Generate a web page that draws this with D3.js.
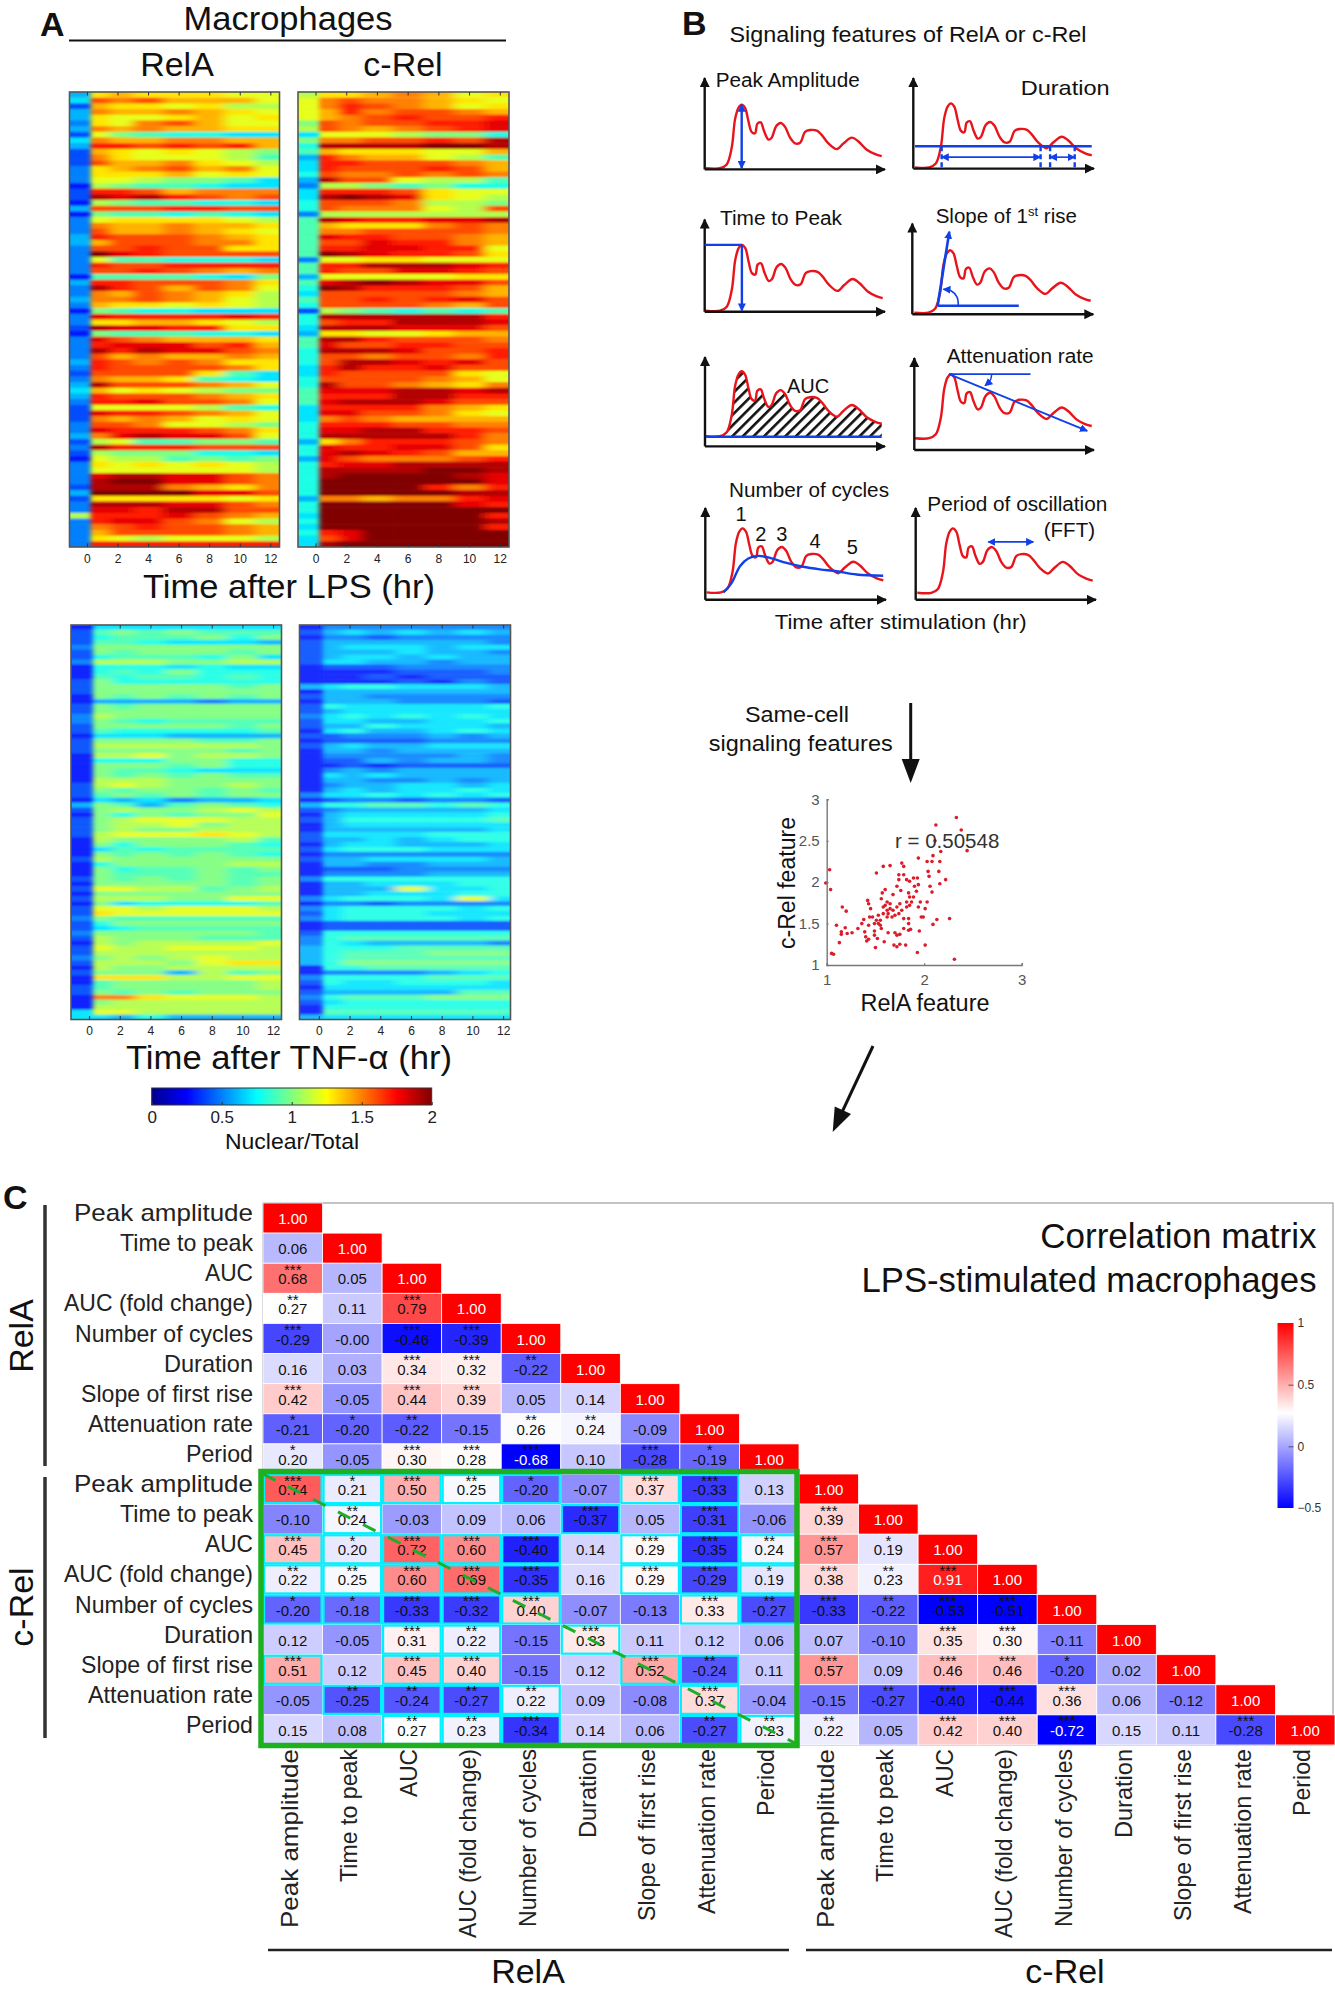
<!DOCTYPE html>
<html><head><meta charset="utf-8">
<script src="https://cdn.jsdelivr.net/npm/d3@7"></script>
<style>
html,body{margin:0;padding:0;background:#fff}
svg{display:block}
text{font-family:"Liberation Sans",Arial,sans-serif;fill:#111}
</style></head><body>
<svg id="fig" width="1335" height="1990" viewBox="0 0 1335 1990"></svg>
<script>
// ---------- DATA ----------
// Heatmap: each row = one cell; each character = Nuclear/Total x 10 in base 36, per time bin
const binEdges = [-3, 0.25, 1.5, 3, 5, 7, 9, 11, 15];
const lpsRelA = ["6dedddcc","7gfgeeec","4eddcdbb","6feefedc","6dccdecd","5dcfgecc","6fefeedd","4ca98877","7feeffee","6hhghghe",
"4edcdcba","4fdcccb9","4geefdcb","5defgefc","5dddecdc","5ccbaa97","3ba99877","4hhgefff","4jijhgfg","3ba99887",
"6ggghhgg","3a998987","5cddddcb","5feefeed","5geefedc","6hgggfed","6egggffd","5gghggdd","5kihgggg","5c998887",
"5hgghhhh","5gghgfef","3999987a","6hhgggfd","5jhgegfc","5fegfedb","6ffgfecb","5eddcdcb","3a988777","5ihhhhih",
"5ddeedcb","4jiihhdd","3a999887","5igfeeed","5hiiighe","5jhjiigf","5gefeefe","6hgfgfdd","5hggggfd","4ggggd97",
"5feed987","6jgggfec","7ecdcbaa","6hgggfed","5hhiggfc","4ccccb98","4ihhgfec","4fefecdc","5ggfccba","5ihhhgfd",
"6fijiigc","4bc99aa9","5jhhhggg","4baaa887","3cbb9a9a","5dcdcdcb","5ccccccb","5ijjiigf","5jkkiigf","4jjjfedf",
"6kkkkiig","4dddddcd","5jjjiigf","5iihjjgg","bhhhigfe","5hiigfcb","5fghggfe","5eggggfe","5dcbcccb","5hhhhhhh"];
const lpsCRel = ["bddefecd","cfgffedc","cfhgfecd","cehfggfe","cefghggh","agfgghhi","bgfefghi","7cccbaa8","affgghgj","8jjjjkkj",
"9edddcce","6hfeecb9","7hhgggfe","7hggghge","8gffgfgf","6jggcbb9","5bba9a88","7hhhgdcc","7jkjidcb","8gggfbba",
"8gfffcbg","5bbbbbbb","9jihhiij","9edddfgf","9ffggggf","9ihhggfe","9ggihhfe","9hhiihhc","9kjihhgd","5ccddccc",
"9hhjjjih","9hggiihg","6cccccdd","9ijkjiig","8kjhhhge","7gggggfe","9gghghig","8ggggfeg","4ba98989","8jjjjjjh",
"8ghhjjji","7jjjiiig","6ddccdee","9jjhgggf","9igghhgg","8jjjiggh","8ggfggfh","8gjjihig","7hjhhigg","7hggggdc",
"8ggggfec","8jggfedf","9iiijjij","9hhhjjhh","9ijjjigg","7hhhhfed","7iiggfdc","7fgfeeee","8hhhggff","8iijjhhg",
"8jjjjjhf","6dfhhhgf","8ihhiigd","8ijihgee","6igfffgh","8hiijjjj","8jjjjkkj","8jkkkkji","8kkkkkki","8kkkkhfh",
"8kkkkkjj","6ffeffhi","8kkkkkih","8kkkkkkk","7kkkkkkh","8kkkkkkj","7kkkkkkh","8hikkkkk","7gikkkkk","7jkkkkkk"];
const tnfRelA = ["37777777","49a9a999","48999a8a","49987776","5aaaaaaa","4a9aaa9a","489998a7","5bbbaabb","38887877","3898a888",
"39899898","4a888888","4aaaaa9a","4aaaaaaa","3a9a9a9a","36666566","4a9aaaaa","4aaaaaaa","5baaaaaa","5a989999",
"4aaaaa9a","49888889","37776666","4aaaa99a","4bbbbbba","4aaaaa9a","3bbcabba","3888aa88","3aaa9a88","3a998777",
"3a9a9a99","3bbbaaaa","4bcbaaba","4a9aa9a9","49a9a9aa","37675667","6a969a98","4abaabcb","3a8a9aac","4abcccbb",
"4abbcabb","4abaabbb","4bcccdcb","3baaaab9","3a8aaa98","37989999","3a9a9a98","4baaaaaa","38aaaabb","3a899a9a",
"3a999a99","4a9a9a9a","3aaaaa9a","4ccbb9ab","3aaaaaaa","4bbbaacc","3a788889","4ccbcccb","4dcccccc","5a999999",
"48aaaaaa","47899999","5aaaaaa9","4baaa999","3babbbbc","4cbbcccb","4bbbbbbb","5ababcbb","4bbbacdd","3baabbbb",
"4aaa6b9a","3dddbbcc","39aaaaab","49aaaaab","4a9a9aaa","3ffdcccb","3abbbbbb","3bbbbbbb","7ccbbbbb","77686666"];
const tnfCRel = ["35555555","46767676","35545555","46666665","46777677","46667665","46776766","47766566","34445555","33334445",
"33343444","33334354","67887776","36666666","46655555","36665554","48777778","46777777","57878787","47766778",
"46687776","37866787","44555656","34444555","46766777","36656666","35555565","34465665","33434444","35656666",
"37676666","36655656","35667767","36767787","57787878","34554554","68899898","45666667","36777778","46888889",
"36777777","36666667","47777888","46676788","36776667","47888777","35555555","46677776","36655666","34445555",
"35555666","58888888","36677788","3666c778","36677788","578887c7","35545555","57888878","47888777","57888878",
"34444444","34444444","48888888","58999999","58766665","68889999","68999aaa","68999999","68aaaaaa","38899999",
"35555678","58888999","48778887","37777777","46666699","58999aaa","47888888","38888888","39999999","67777777"];
const hourTicks = [0,2,4,6,8,10,12];
const jetStops = [0,0.25,0.75,1,1.25,1.75,2];
const jetColors = ["#00008f","#0000ff","#00ffff","#80ff80","#ffff00","#ff0000","#800000"];
const barTicks = [0,0.5,1,1.5,2];

// Scatter: same-cell RelA vs c-Rel feature
const scatterRelA = [0.99,1.03,1.04,1.16,1.20,1.10,1.05,1.07,1.13,1.15,1.15,1.19,1.21,1.26,1.32,1.36,1.38,1.42,1.43,1.45,1.39,1.40,1.43,1.41,1.43,1.44,1.47,1.49,1.49,1.52,1.50,1.59,1.51,1.58,1.65,1.57,1.56,1.51,1.53,1.55,1.56,1.58,1.58,1.60,1.62,1.63,1.62,1.65,1.68,1.67,1.70,1.72,1.75,1.77,1.74,1.79,1.63,1.70,1.72,1.75,1.79,1.84,1.84,1.84,1.86,1.95,1.69,1.72,1.75,1.81,1.93,2.01,1.77,1.79,1.74,1.79,1.74,1.72,1.76,1.82,1.85,1.89,1.93,1.90,1.94,1.92,1.84,1.85,1.82,1.87,1.82,1.85,1.89,1.94,1.96,2.03,2.01,1.97,1.99,2.09,2.13,2.26,2.31,1.94,2.03,2.08,2.09,2.17,2.11,2.12,2.33,2.38,2.44,2.16,2.15,2.04,2.05,2.06,2.08,2.16,2.22,1.68,1.60,1.62,1.65,1.53,1.55,1.49];
const scatterCRel = [1.99,2.15,1.91,1.70,1.65,1.48,1.14,1.13,1.27,1.40,1.37,1.45,1.38,1.39,1.44,1.50,1.55,1.78,1.74,1.68,1.40,1.34,1.31,1.29,1.48,1.58,1.58,1.41,1.36,1.32,1.21,1.28,2.11,2.19,2.20,1.87,1.80,1.54,1.60,1.48,1.44,1.62,1.70,1.72,1.66,1.62,1.58,1.68,1.66,1.58,1.60,1.70,1.74,1.66,1.62,1.56,1.39,1.39,1.36,1.37,1.44,1.56,1.50,1.42,1.43,1.41,1.24,1.22,1.25,1.24,1.15,1.24,2.23,2.19,2.09,2.09,2.03,1.95,1.90,2.03,2.01,2.05,2.05,1.95,1.97,1.89,1.87,1.82,1.76,1.76,1.70,1.72,1.82,1.70,1.76,1.76,1.68,1.58,1.58,1.49,1.55,1.56,1.07,2.29,2.25,2.25,2.32,2.37,2.50,2.69,2.78,2.63,2.38,2.25,2.13,2.13,2.07,1.95,1.88,1.98,2.03,1.85,1.91,1.76,1.74,1.50,1.54,1.50];
const scatterXTicks = [1,2,3];
const scatterYTicks = [1,1.5,2,2.5,3];

// Schematic signal trace
const traceHr = [0,1.04,1.53,1.9,2.15,2.4,2.64,2.89,3.14,3.38,3.63,3.8,4.05,4.3,4.62,4.86,5.19,5.53,5.85,6.22,6.59,6.96,7.33,7.7,8.2,8.57,9.06,9.68,10.17,10.79,11.28,11.9,12.52,13];
const traceSignal = [0,0,0.06,0.32,0.77,0.95,1,0.95,0.74,0.57,0.55,0.70,0.72,0.58,0.45,0.48,0.66,0.71,0.65,0.48,0.39,0.40,0.57,0.6,0.59,0.52,0.39,0.30,0.39,0.48,0.42,0.29,0.22,0.19];
const baselineHr = [1.23,1.84,2.45,3.06,3.8,4.66,5.88,7.1,8.33,9.56,11.03,12.99];
const baselineSignal = [0,0.15,0.41,0.53,0.57,0.54,0.46,0.40,0.36,0.33,0.28,0.26];

// Correlation matrix
const features = ["Peak amplitude","Time to peak","AUC","AUC (fold change)","Number of cycles","Duration","Slope of first rise","Attenuation rate","Period"];
const corrValues = [
[1],
[0.06,1],
[0.68,0.05,1],
[0.27,0.11,0.79,1],
[-0.29,-0.004,-0.46,-0.39,1],
[0.16,0.03,0.34,0.32,-0.22,1],
[0.42,-0.05,0.44,0.39,0.05,0.14,1],
[-0.21,-0.20,-0.22,-0.15,0.26,0.24,-0.09,1],
[0.20,-0.05,0.30,0.28,-0.68,0.10,-0.28,-0.19,1],
[0.74,0.21,0.50,0.25,-0.20,-0.07,0.37,-0.33,0.13,1],
[-0.10,0.24,-0.03,0.09,0.06,-0.37,0.05,-0.31,-0.06,0.39,1],
[0.45,0.20,0.72,0.60,-0.40,0.14,0.29,-0.35,0.24,0.57,0.19,1],
[0.22,0.25,0.60,0.69,-0.35,0.16,0.29,-0.29,0.19,0.38,0.23,0.91,1],
[-0.20,-0.18,-0.33,-0.32,0.40,-0.07,-0.13,0.33,-0.27,-0.33,-0.22,-0.53,-0.51,1],
[0.12,-0.05,0.31,0.22,-0.15,0.33,0.11,0.12,0.06,0.07,-0.10,0.35,0.30,-0.11,1],
[0.51,0.12,0.45,0.40,-0.15,0.12,0.52,-0.24,0.11,0.57,0.09,0.46,0.46,-0.20,0.02,1],
[-0.05,-0.25,-0.24,-0.27,0.22,0.09,-0.08,0.37,-0.04,-0.15,-0.27,-0.40,-0.44,0.36,0.06,-0.12,1],
[0.15,0.08,0.27,0.23,-0.34,0.14,0.06,-0.27,0.23,0.22,0.05,0.42,0.40,-0.72,0.15,0.11,-0.28,1]];
const corrStars = [
[0],[0,0],[3,0,0],[2,0,3,0],[3,0,3,3,0],[0,0,3,3,2,0],[3,0,3,3,0,0,0],[1,1,2,0,2,2,0,0],[1,0,3,3,3,0,3,1,0],
[3,1,3,2,1,0,3,3,0,0],[0,2,0,0,0,3,0,3,0,3,0],[3,1,3,3,3,0,3,3,2,3,1,0],[2,2,3,3,3,0,3,3,1,3,2,3,0],
[1,1,3,3,3,0,0,3,2,3,2,3,3,0],[0,0,3,2,0,3,0,0,0,0,0,3,3,0,0],[3,0,3,3,0,0,3,2,0,3,0,3,3,1,0,0],
[0,2,2,2,2,0,0,3,0,0,2,3,3,3,0,0,0],[0,0,2,2,3,0,0,2,2,2,0,3,3,3,0,0,3,0]];
const corrStops = [-0.5,0.27,1];
const corrColors = ["#0000ff","#ffffff","#ff0000"];
const corrTicks = [-0.5,0,0.5,1];
// drawn lengths of the feature names
const featureLengths = [179,133,48,189,178,89,172,165,67];

// ---------- HELPERS ----------
const svg = d3.select("#fig");
const defs = svg.append("defs");
const BLUE = "#1140e8", RED = "#e8141c";
function label(x,y,s,size,opt={}){
  const t = svg.append("text").attr("x",x).attr("y",y).text(s).attr("font-size",size)
    .attr("text-anchor",opt.anchor||"start");
  if(opt.bold) t.attr("font-weight","bold");
  if(opt.fill) t.style("fill",opt.fill);
  if(opt.rotate) t.attr("transform",`rotate(${opt.rotate} ${x} ${y})`);
  if(opt.len) t.attr("textLength",opt.len).attr("lengthAdjust","spacingAndGlyphs");
  return t;
}
const jet = d3.scaleLinear().domain(jetStops).range(jetColors).clamp(true);
function blur(id,sd){
  defs.append("filter").attr("id",id).attr("x",-0.2).attr("y",-0.05).attr("width",1.4).attr("height",1.1)
    .append("feGaussianBlur").attr("stdDeviation",sd);
}
blur("smearPost","6 0.8");
blur("smearPre","2.6 0.8");

// ---------- PANEL A ----------
function heatmap(id,rows,box,domain){
  const x = d3.scaleLinear().domain(domain).range([box.x0,box.x1]);
  const y = d3.scaleBand().domain(d3.range(rows.length)).range([box.y0,box.y1]);
  defs.append("clipPath").attr("id","clip"+id).append("rect")
    .attr("x",box.x0).attr("y",box.y0).attr("width",box.x1-box.x0).attr("height",box.y1-box.y0);
  const clip = svg.append("g").attr("clip-path",`url(#clip${id})`).attr("opacity",box.op||1);
  const post = clip.append("g").attr("filter","url(#smearPost)");
  const pre = clip.append("g").attr("filter","url(#smearPre)");
  rows.forEach((row,r)=>{
    const ry = y(r)-(r==0?8:0), rh = y.bandwidth()+(r==0||r==rows.length-1?8:0.5);
    const vals = row.split("");
    post.selectAll(null).data(vals.slice(1)).join("rect")
      .attr("x",(d,i)=>x(i==0?binEdges[0]:binEdges[i+1]))
      .attr("width",(d,i)=>x(binEdges[i+2])-x(i==0?binEdges[0]:binEdges[i+1])+0.6)
      .attr("y",ry).attr("height",rh)
      .attr("fill",d=>jet(parseInt(d,36)/10));
    pre.append("rect").attr("x",x(binEdges[0])).attr("width",x(binEdges[1])-x(binEdges[0]))
      .attr("y",ry).attr("height",rh).attr("fill",jet(parseInt(vals[0],36)/10));
  });
  svg.append("rect").attr("x",box.x0).attr("y",box.y0).attr("width",box.x1-box.x0).attr("height",box.y1-box.y0)
    .attr("fill","none").attr("stroke","#555").attr("stroke-width",1.6);
  const bottom = svg.append("g").attr("transform",`translate(0,${box.y1})`)
    .call(d3.axisBottom(x).tickValues(hourTicks).tickSize(-3.5).tickPadding(7));
  const top = svg.append("g").attr("transform",`translate(0,${box.y0})`)
    .call(d3.axisTop(x).tickValues(hourTicks).tickSize(-3.5).tickFormat(""));
  [bottom,top].forEach(a=>{a.select(".domain").remove();a.selectAll("line").attr("stroke","#333");});
  bottom.selectAll("text").attr("font-size",12).style("fill","#222").attr("font-family",null);
}
heatmap("a",lpsRelA,{x0:69.5,x1:279.5,y0:92,y1:547},[-1.14,12.6]);
heatmap("b",lpsCRel,{x0:298,x1:509,y0:92,y1:547},[-1.14,12.6]);
heatmap("c",tnfRelA,{x0:71,x1:281.5,y0:625,y1:1019.5,op:0.94},[-1.18,12.55]);
heatmap("d",tnfCRel,{x0:299.5,x1:510.5,y0:625,y1:1019.5,op:0.9},[-1.26,12.48]);

label(40,36,"A",34,{bold:true});
label(288,30,"Macrophages",33,{anchor:"middle",len:209});
svg.append("line").attr("x1",69).attr("x2",506).attr("y1",40.5).attr("y2",40.5).attr("stroke","#111").attr("stroke-width",2);
label(177,75.5,"RelA",34,{anchor:"middle"});
label(403,75.5,"c-Rel",34,{anchor:"middle"});
label(289,598,"Time after LPS (hr)",34,{anchor:"middle",len:292});
label(289,1069,"Time after TNF-α (hr)",34,{anchor:"middle",len:326});

// jet colorbar
const barX = d3.scaleLinear().domain([0,2]).range([151.7,431.7]);
const grad = defs.append("linearGradient").attr("id","jetGrad");
jetStops.forEach((s,i)=>grad.append("stop").attr("offset",s/2).attr("stop-color",jetColors[i]));
svg.append("rect").attr("x",barX(0)).attr("y",1088).attr("width",barX(2)-barX(0)).attr("height",17)
  .attr("fill","url(#jetGrad)").attr("stroke","#333").attr("stroke-width",1);
const barAxis = svg.append("g").attr("transform","translate(0,1105)")
  .call(d3.axisBottom(barX).tickValues(barTicks).tickSize(-3).tickPadding(6).tickFormat(d3.format("")));
barAxis.select(".domain").remove();
barAxis.selectAll("line").attr("stroke","#333");
barAxis.selectAll("text").attr("font-size",17).style("fill","#222").attr("font-family",null);
label(292,1149,"Nuclear/Total",22,{anchor:"middle",len:134});

// ---------- PANEL B ----------
label(682,35,"B",34,{bold:true});
label(908,42,"Signaling features of RelA or c-Rel",22,{anchor:"middle",len:357});
[["headBlack","#111",11,10],["headBlue",BLUE,8,8]].forEach(([id,c,w,h])=>{
  defs.append("marker").attr("id",id).attr("viewBox","0 0 10 10").attr("refX",9).attr("refY",5)
    .attr("markerWidth",w).attr("markerHeight",h)
    .attr("markerUnits","userSpaceOnUse").attr("orient","auto-start-reverse")
    .append("path").attr("d","M0,0L10,5L0,10Z").attr("fill",c);
});
const hatch = defs.append("pattern").attr("id","hatch").attr("width",7.5).attr("height",7.5)
  .attr("patternUnits","userSpaceOnUse").attr("patternTransform","rotate(-45)");
hatch.append("rect").attr("width",7.5).attr("height",7.5).attr("fill","#fff");
hatch.append("rect").attr("width",7.5).attr("height",2.6).attr("fill","#111");

const schematics = [
 {key:"peak",  ox:704.7,oy:169.4,xe:885,ty:78,  cx0:706,  cx1:881.7, base:168.2,top:104.6},
 {key:"dur",   ox:913.3,oy:168.6,xe:1094,ty:78, cx0:915,  cx1:1091.7,base:167.4,top:103.4},
 {key:"ttp",   ox:704.7,oy:311.8,xe:885,ty:219.5,cx0:706, cx1:882.7, base:310.6,top:244.9},
 {key:"slope", ox:912.3,oy:314.3,xe:1093.3,ty:223.6,cx0:914.3,cx1:1090.7,base:312.6,top:250.3},
 {key:"auc",   ox:705,oy:446.4,xe:885,ty:357,   cx0:706,  cx1:881.7, base:436.1,top:371.3},
 {key:"att",   ox:914.3,oy:450,xe:1094,ty:358,  cx0:915,  cx1:1091.7,base:438.2,top:374.2},
 {key:"cyc",   ox:705.3,oy:599.8,xe:886,ty:507.9,cx0:706.7,cx1:883.3,base:592.4,top:528.4},
 {key:"per",   ox:915.7,oy:599.8,xe:1096,ty:507.9,cx0:917.3,cx1:1092.7,base:592.8,top:528.4}];

const trace = traceHr.map((t,i)=>[t,traceSignal[i]]);
const blueTrace = baselineHr.map((t,i)=>[t,baselineSignal[i]]);
schematics.forEach(p=>{
  const g = svg.append("g");
  const x = d3.scaleLinear().domain([0,13]).range([p.cx0,p.cx1]);
  const y = d3.scaleLinear().domain([0,1]).range([p.base,p.top]);
  const ln = d3.line().x(d=>x(d[0])).y(d=>y(d[1])).curve(d3.curveCatmullRom.alpha(0.5));
  const seg = (a,b,w,opt={})=>{
    const l = g.append("line").attr("x1",a[0]).attr("y1",a[1]).attr("x2",b[0]).attr("y2",b[1])
      .attr("stroke",BLUE).attr("stroke-width",w);
    if(opt.start) l.attr("marker-start","url(#headBlue)");
    if(opt.end) l.attr("marker-end","url(#headBlue)");
    if(opt.dash) l.attr("stroke-dasharray",opt.dash);
  };
  const P = (t,v)=>[x(t),y(v)];
  if(p.key=="auc"){
    const area = d3.area().x(d=>x(d[0])).y0(y(0)).y1(d=>y(d[1])).curve(d3.curveCatmullRom.alpha(0.5));
    g.append("path").attr("d",area(trace)).attr("fill","url(#hatch)");
  }
  g.append("path").attr("d",ln(trace)).attr("fill","none").attr("stroke",RED).attr("stroke-width",2.4);
  // axes
  g.append("line").attr("x1",p.ox).attr("y1",p.oy).attr("x2",p.ox).attr("y2",p.ty).attr("stroke","#111").attr("stroke-width",2.4).attr("marker-end","url(#headBlack)");
  g.append("line").attr("x1",p.ox).attr("y1",p.oy).attr("x2",p.xe).attr("y2",p.oy).attr("stroke","#111").attr("stroke-width",2.4).attr("marker-end","url(#headBlack)");
  if(p.key=="peak") seg(P(2.64,1),P(2.64,0),2.4,{start:1,end:1});
  if(p.key=="ttp"){ seg([p.ox,y(1)],P(2.64,1),2.4); seg(P(2.64,1),P(2.64,0),2.4,{end:1}); }
  if(p.key=="dur"){
    seg(P(0,0.33),P(13,0.33),2.4);
    seg(P(1.96,0.16),P(9.24,0.16),1.6,{start:1,end:1});
    seg(P(9.94,0.16),P(11.75,0.16),1.6,{start:1,end:1});
    [1.96,9.24,9.94,11.75].forEach(t=>seg(P(t,0.33),P(t,-0.01),2.4,{dash:"5 3"}));
  }
  if(p.key=="slope"){
    seg(P(1.72,0.11),P(7.7,0.11),2.4);
    seg(P(1.72,0.11),P(2.58,1.3),2.6,{end:1});
    g.append("path").attr("d",ln([[3.24,0.11],[3.15,0.25],[2.7,0.35],[2.14,0.375]])).attr("fill","none")
      .attr("stroke",BLUE).attr("stroke-width",1.6).attr("marker-end","url(#headBlue)");
  }
  if(p.key=="auc"){
    seg(P(0,-0.01),P(13,-0.01),2.4);
    label(808,393,"AUC",20,{anchor:"middle"});
  }
  if(p.key=="att"){
    seg(P(2.5,1),P(8.5,1),1.8);
    seg(P(2.5,1),P(12.67,0.115),1.8,{end:1});
    g.append("path").attr("d",ln([[5.64,1],[5.55,0.91],[5.15,0.82]])).attr("fill","none")
      .attr("stroke",BLUE).attr("stroke-width",1.5).attr("marker-end","url(#headBlue)");
  }
  if(p.key=="cyc"){
    g.append("path").attr("d",ln(blueTrace)).attr("fill","none").attr("stroke",BLUE).attr("stroke-width",2.4);
  }
  if(p.key=="per") seg(P(5.26,0.79),P(8.6,0.79),1.6,{start:1,end:1});
});
label(715.7,87.3,"Peak Amplitude",20,{len:144});
label(1020.7,95,"Duration",21,{len:89});
label(720,225.4,"Time to Peak",20,{len:122});
const sl = label(935.7,223.4,"Slope of 1",20.5);
sl.append("tspan").text("st").attr("font-size",13).attr("dy",-7);
sl.append("tspan").text(" rise").attr("dy",7);
label(946.7,362.7,"Attenuation rate",20,{len:147});
label(729,497,"Number of cycles",20,{len:160});
label(927.3,510.7,"Period of oscillation",20,{len:180});
label(1095,537,"(FFT)",20.5,{anchor:"end"});
[["1",741,521],["2",760.7,541],["3",781.7,541],["4",815,548.4],["5",852.3,554]].forEach(d=>label(d[1],d[2],d[0],20,{anchor:"middle"}));
label(900.7,629,"Time after stimulation (hr)",21,{anchor:"middle",len:252});

label(797,722,"Same-cell",22,{anchor:"middle",len:104});
label(800.7,751,"signaling features",22,{anchor:"middle",len:184});
function bigArrow(x1,y1,x2,y2){
  const a = Math.atan2(y2-y1,x2-x1), L=24, W=9;
  svg.append("line").attr("x1",x1).attr("y1",y1).attr("x2",x2-Math.cos(a)*L*0.8).attr("y2",y2-Math.sin(a)*L*0.8).attr("stroke","#111").attr("stroke-width",3);
  const bx=x2-Math.cos(a)*L, by=y2-Math.sin(a)*L;
  svg.append("path").attr("fill","#111").attr("d",`M${x2},${y2}L${bx-Math.sin(a)*W},${by+Math.cos(a)*W}L${bx+Math.sin(a)*W},${by-Math.cos(a)*W}Z`);
}
bigArrow(910.7,703,910.7,783);
bigArrow(873,1046,832.7,1132);

// scatter
const sx = d3.scaleLinear().domain([1,3]).range([826.7,1021.7]);
const sy = d3.scaleLinear().domain([1,3]).range([965,799.3]);
svg.append("g").selectAll("circle").data(scatterRelA).join("circle")
  .attr("cx",d=>sx(d)).attr("cy",(d,i)=>sy(scatterCRel[i])).attr("r",1.8).attr("fill","#dc1c28");
const axB = svg.append("g").attr("transform","translate(0,965)")
  .call(d3.axisBottom(sx).tickValues(scatterXTicks).tickSize(-2).tickPadding(9).tickFormat(d3.format("d")));
const axL = svg.append("g").attr("transform","translate(826.7,0)")
  .call(d3.axisLeft(sy).tickValues(scatterYTicks).tickSize(-2).tickPadding(7).tickFormat(d3.format("")));
[axB,axL].forEach(a=>{
  a.select(".domain").attr("stroke","#777").attr("stroke-width",1.4);
  a.selectAll("line").attr("stroke","#777");
  a.selectAll("text").attr("font-size",15).style("fill","#555").attr("font-family",null);
});
label(895,848,"r = 0.50548",20.5).style("fill","#333");
label(925,1011,"RelA feature",23,{anchor:"middle",len:129});
label(795,883,"c-Rel feature",23,{anchor:"middle",rotate:-90,len:132});

// ---------- PANEL C ----------
label(3,1209,"C",34,{bold:true});
const names = features.concat(features);
const lengths = featureLengths.concat(featureLengths);
const cx = d3.scaleBand().domain(d3.range(18)).range([263,1335]);
const cy = d3.scaleBand().domain(d3.range(18)).range([1203,1745]);
const corrColor = d3.scaleLinear().domain(corrStops).range(corrColors).clamp(true);
svg.append("rect").attr("x",263).attr("y",1203).attr("width",1070).attr("height",542).attr("fill","#fff").attr("stroke","#888").attr("stroke-width",1);
const cells = corrValues.flatMap((row,r)=>row.map((v,c)=>({r,c,v,s:corrStars[r][c]})));
const cg = svg.append("g");
cg.selectAll("rect").data(cells).join("rect")
  .attr("x",d=>cx(d.c)).attr("y",d=>cy(d.r)).attr("width",cx.bandwidth()).attr("height",cy.bandwidth())
  .attr("fill",d=>corrColor(d.v)).attr("stroke","#fff").attr("stroke-width",0.8);
// cyan boxes: significant same-cell RelA/c-Rel pairs
const crossSig = cells.filter(d=>d.r>=9&&d.c<9&&d.s>0);
cg.selectAll("rect.sig").data(crossSig).join("rect").attr("class","sig")
  .attr("x",d=>cx(d.c)+1).attr("y",d=>cy(d.r)+1).attr("width",cx.bandwidth()-2).attr("height",cy.bandwidth()-2)
  .attr("fill","none").attr("stroke","#00f0ff").attr("stroke-width",2.2);
const isWhite = v=>v>=0.9||v<=-0.6;
cg.selectAll("text.v").data(cells).join("text").attr("class","v")
  .attr("x",d=>cx(d.c)+cx.bandwidth()/2).attr("y",d=>cy(d.r)+cy.bandwidth()/2+6)
  .attr("text-anchor","middle").attr("font-size",15)
  .style("fill",d=>isWhite(d.v)?"#fff":"#111")
  .text(d=>d.v.toFixed(2));
cg.selectAll("text.s").data(cells.filter(d=>d.s>0)).join("text").attr("class","s")
  .attr("x",d=>cx(d.c)+cx.bandwidth()/2).attr("y",d=>cy(d.r)+11.5)
  .attr("text-anchor","middle").attr("font-size",15)
  .style("fill","#111").text(d=>"*".repeat(d.s));
// diagonal + block frame
svg.append("line").attr("x1",cx(0)).attr("y1",cy(9)).attr("x2",cx(8)+cx.bandwidth()).attr("y2",cy(17)+cy.bandwidth())
  .attr("stroke","#1fae2a").attr("stroke-width",3).attr("stroke-dasharray","14 14");
svg.append("rect").attr("x",261).attr("y",1471.5).attr("width",536).attr("height",274)
  .attr("fill","none").attr("stroke","#1fb01f").attr("stroke-width",5.5);
// row labels
names.forEach((n,i)=>{
  label(253,cy(i)+cy.bandwidth()/2+3,n,24,{anchor:"end",len:lengths[i]}).style("fill","#222");
  const bx = cx(i)+cx.bandwidth()/2-3;
  label(bx+8,1749,n,24,{anchor:"end",rotate:-90,len:lengths[i]}).style("fill","#222");
});
[[1205,1466],[1477,1738]].forEach(d=>svg.append("line").attr("x1",45).attr("x2",45).attr("y1",d[0]).attr("y2",d[1]).attr("stroke","#333").attr("stroke-width",3.5));
label(33,1336,"RelA",34,{anchor:"middle",rotate:-90});
label(33,1607,"c-Rel",34,{anchor:"middle",rotate:-90});
[[268,789],[806,1332]].forEach(d=>svg.append("line").attr("x1",d[0]).attr("x2",d[1]).attr("y1",1950).attr("y2",1950).attr("stroke","#222").attr("stroke-width",2.5));
label(528,1983,"RelA",34,{anchor:"middle"});
label(1065,1983,"c-Rel",34,{anchor:"middle"});
label(1316.5,1248,"Correlation matrix",35,{anchor:"end"});
label(1316.5,1292,"LPS-stimulated macrophages",35,{anchor:"end",len:455});

// corr colorbar
const cb = d3.scaleLinear().domain([-0.5,1]).range([1508,1323]);
const cbGrad = defs.append("linearGradient").attr("id","corrGrad").attr("x1",0).attr("x2",0).attr("y1",1).attr("y2",0);
corrStops.forEach((s,i)=>cbGrad.append("stop").attr("offset",(s+0.5)/1.5).attr("stop-color",corrColors[i]));
svg.append("rect").attr("x",1277.5).attr("y",cb(1)).attr("width",16).attr("height",cb(-0.5)-cb(1)).attr("fill","url(#corrGrad)");
const cbAxis = svg.append("g").attr("transform","translate(1293.5,0)")
  .call(d3.axisRight(cb).tickValues(corrTicks).tickSize(0).tickPadding(4).tickFormat(d3.format("")));
cbAxis.select(".domain").remove();
cbAxis.selectAll("text").attr("font-size",12).style("fill","#333").attr("font-family",null);
cbAxis.selectAll("line").data(corrTicks).attr("x1",-5).attr("x2",0).attr("stroke",d=>(d==0||d==0.5)?"#555":"none");
</script>
</body></html>
